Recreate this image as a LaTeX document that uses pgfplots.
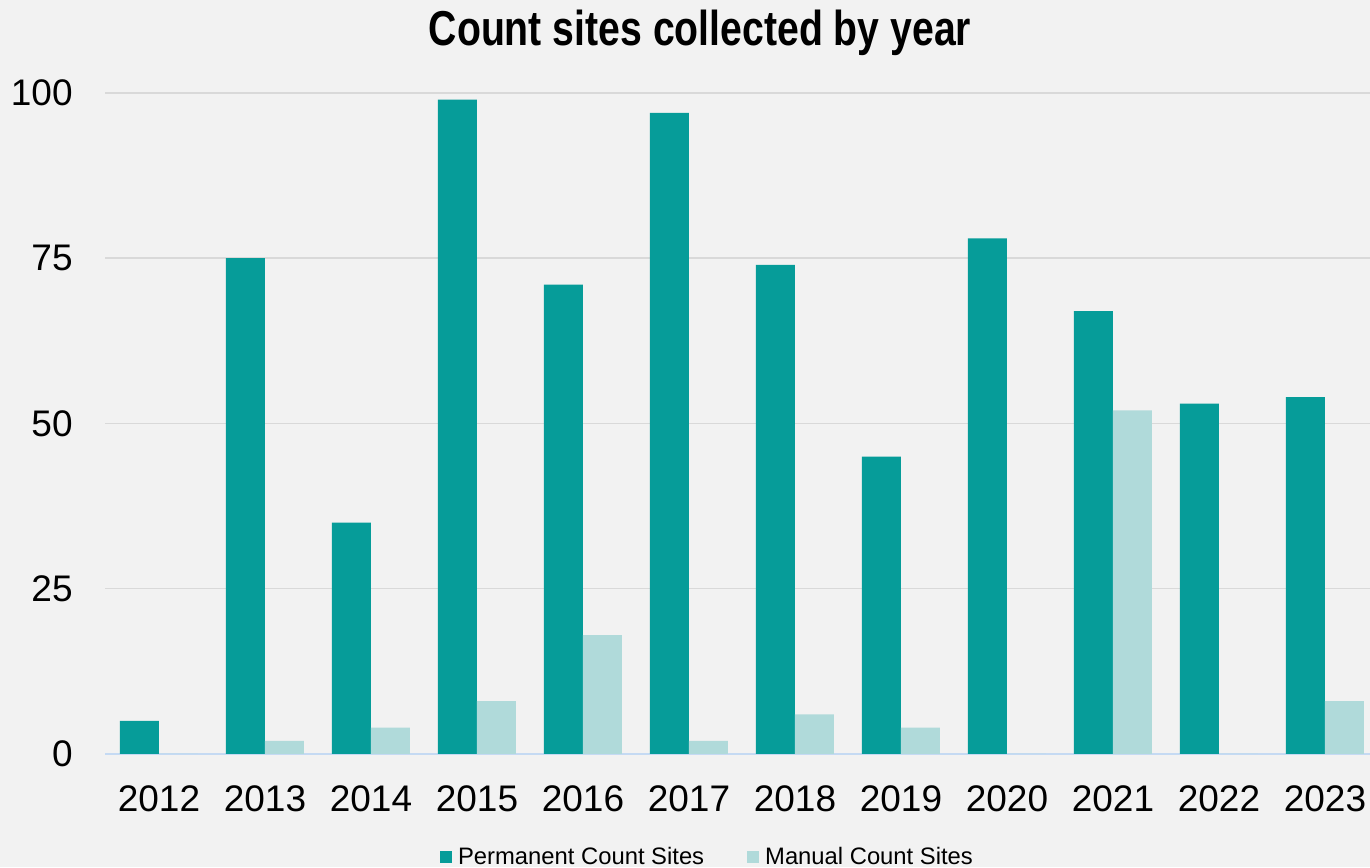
\documentclass[border=0pt]{standalone}
\usepackage{pgfplots}
\pgfplotsset{compat=1.18}
\usepackage{fontspec}
\setmainfont{Liberation Sans}
\newfontfamily\titlefont[FakeStretch=0.8]{Liberation Sans}
\definecolor{perm}{HTML}{069C99}
\definecolor{man}{HTML}{B0DADA}
\definecolor{bg}{HTML}{F2F2F2}
\definecolor{gridc}{HTML}{D9D9D9}
\definecolor{axl}{HTML}{C5DAF3}
\begin{document}
\begin{tikzpicture}[x=1pt,y=1pt]
\fill[bg] (0,0) rectangle (685,433.5);
\useasboundingbox (0,0) rectangle (685,433.5);
\begin{axis}[
  at={(52.5pt,56.5pt)}, anchor=south west,
  scale only axis, width=632.5pt, height=330.5pt,
  xmin=-0.509, xmax=11.425, ymin=0, ymax=100,
  ybar=0pt, bar width=0.368,
  ytick={0,25,50,75,100},
  xtick={0,...,11},
  xticklabels={2012,2013,2014,2015,2016,2017,2018,2019,2020,2021,2022,2023},
  ymajorgrids, grid style={gridc, line width=0.75pt},
  axis lines*=left,
  y axis line style={draw=none},
  x axis line style={axl, line width=1pt},
  major tick length=0pt, tick style={draw=none},
  yticklabel style={inner sep=0pt, xshift=-16pt, font=\fontsize{18.5}{18.5}\selectfont},
  xticklabel style={inner sep=0pt, yshift=-15.5pt, font=\fontsize{18.5}{18.5}\selectfont},
  /pgf/number format/assume math mode=true,
  legend columns=2,
  legend cell align=left,
  legend style={at={(0.4755,-0.1565)}, anchor=center, draw=none, fill=none,
    font=\fontsize{11.9}{11.9}\selectfont, nodes={inner sep=0pt},
    /tikz/every odd column/.append style={column sep=3pt},
    /tikz/every even column/.append style={column sep=21.5pt}},
  legend image code/.code={\fill[#1] (0pt,-3pt) rectangle (6pt,3pt);},
]
\addplot[fill=perm, draw=none] coordinates {(0,5) (1,75) (2,35) (3,99) (4,71) (5,97) (6,74) (7,45) (8,78) (9,67) (10,53) (11,54)};
\addlegendentry{Permanent Count Sites}
\addplot[fill=man, draw=none] coordinates {(0,0) (1,2) (2,4) (3,8) (4,18) (5,2) (6,6) (7,4) (8,0) (9,52) (10,0) (11,8)};
\addlegendentry{Manual Count Sites}
\end{axis}
\node[font=\titlefont\bfseries\fontsize{24.5}{24.5}\selectfont] at (350,417) {Count sites collected by year};
\end{tikzpicture}
\end{document}
